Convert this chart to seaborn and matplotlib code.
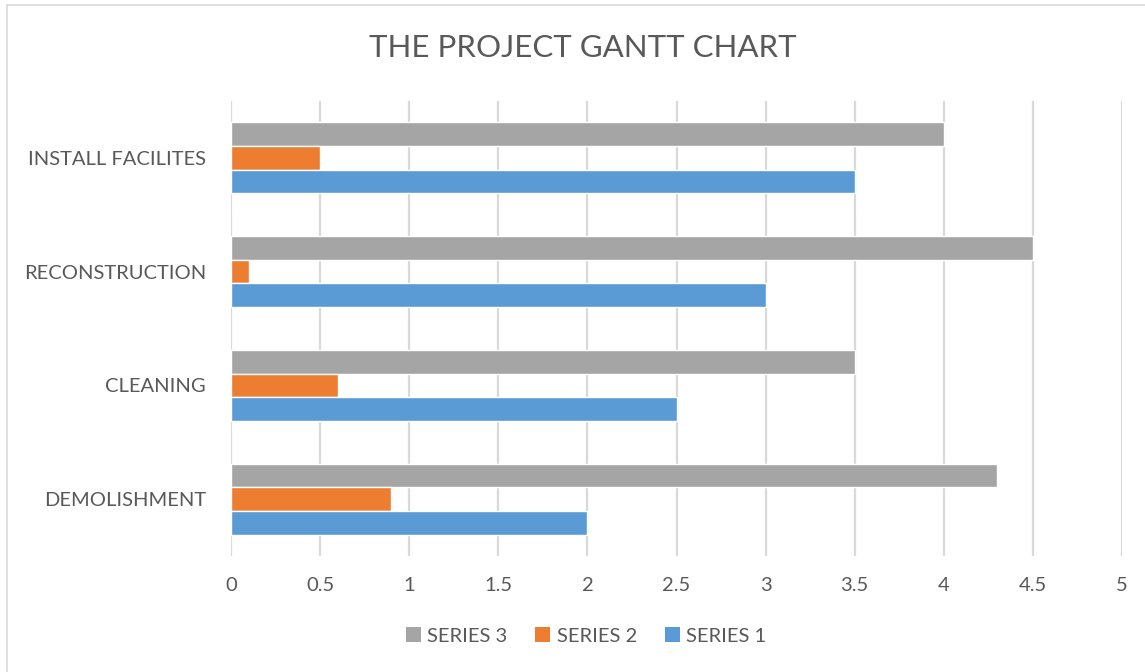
import matplotlib
matplotlib.use("Agg")
import matplotlib.pyplot as plt
import seaborn as sns
import pandas as pd
from matplotlib.patches import Rectangle, Patch

# Données du graphique
tasks = ["INSTALL FACILITES", "RECONSTRUCTION", "CLEANING", "DEMOLISHMENT"]
series_names = ["SERIES 3", "SERIES 2", "SERIES 1"]
series_1 = [3.5, 3.0, 2.5, 2.0]
series_2 = [0.5, 0.1, 0.6, 0.9]
series_3 = [4.0, 4.5, 3.5, 4.3]
colors = ["#A5A5A5", "#ED7D31", "#5B9BD5"]
xticks = [0, 0.5, 1, 1.5, 2, 2.5, 3, 3.5, 4, 4.5, 5]

sns.set_theme(style="white")
plt.rcParams["font.family"] = ["Lato", "DejaVu Sans"]
text_color = "#595959"

df = pd.DataFrame({
    "task": tasks * 3,
    "series": ["SERIES 3"] * 4 + ["SERIES 2"] * 4 + ["SERIES 1"] * 4,
    "value": series_3 + series_2 + series_1,
})

fig = plt.figure(figsize=(11.45, 6.72), dpi=100)
ax = fig.add_axes([231 / 1145, 1 - 556 / 672, (1122 - 231) / 1145, (556 - 101) / 672])

sns.barplot(data=df, x="value", y="task", hue="series", order=tasks,
            hue_order=series_names, palette=colors, orient="h",
            width=0.625, gap=0, saturation=1, ax=ax, legend=False)

ax.set_xlim(0, 5)
ax.set_ylim(3.5, -0.5)
ax.set_xticks(xticks)
ax.set_xticklabels([f"{t:g}" for t in xticks])
ax.grid(axis="x", color="#D9D9D9", linewidth=1.6)
ax.set_axisbelow(True)
for s in ax.spines.values():
    s.set_visible(False)
ax.set_xlabel("")
ax.set_ylabel("")
ax.tick_params(axis="x", length=0, pad=15, labelsize=14.5, colors=text_color)
ax.tick_params(axis="y", length=0, pad=18, labelsize=14.5, colors=text_color)

# Titre
fig.text(583 / 1145, 1 - 48 / 672, "THE PROJECT GANTT CHART", ha="center",
         va="center", fontsize=22.5, color=text_color)

# Légende
handles = [Patch(facecolor=c, edgecolor="none") for c in colors]
fig.legend(handles, series_names, loc="center", bbox_to_anchor=(586 / 1145, 1 - 636 / 672),
           ncol=3, frameon=False, fontsize=14.5, labelcolor=text_color,
           handlelength=0.75, handleheight=0.75, handletextpad=0.3, columnspacing=1.4)

# Cadre du graphique
fig.patches.append(Rectangle((7 / 1145, -0.1), 1.2, 1 - 5 / 672 + 0.1,
                             transform=fig.transFigure, fill=False,
                             edgecolor="#D9D9D9", linewidth=1.2))

fig.savefig("out.png", dpi=100)
